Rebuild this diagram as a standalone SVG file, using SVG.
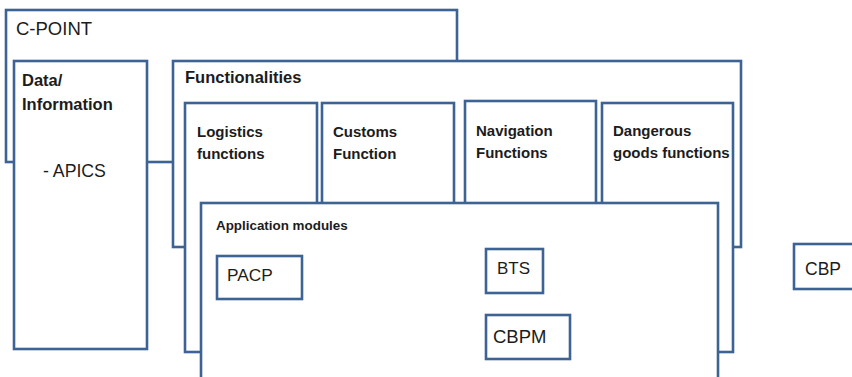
<svg xmlns="http://www.w3.org/2000/svg" width="852" height="377" viewBox="0 0 852 377">
  <style>
    .box { fill: #ffffff; stroke: #3d6394; stroke-width: 2.6; }
    .t { font-family: "Liberation Sans", Arial, sans-serif; fill: #1c1c1c; }
    .b { font-weight: bold; }
  </style>
  <rect x="0" y="0" width="852" height="377" fill="#ffffff"/>

  <!-- outer platform frame -->
  <g id="c-point">
    <rect class="box" x="6" y="10" width="451" height="152"/>
    <text class="t" x="16" y="35" font-size="18.5">C-POINT</text>
  </g>

  <g id="data-information">
    <rect class="box" x="14" y="61" width="133" height="288"/>
    <text class="t b" x="22" y="86" font-size="16.5">Data/</text>
    <text class="t b" x="22" y="110" font-size="16.5">Information</text>
    <text class="t" x="43" y="177" font-size="17.7">- APICS</text>
  </g>

  <g id="functionalities">
    <rect class="box" x="173" y="61" width="568" height="186"/>
    <text class="t b" x="185" y="83" font-size="16.5">Functionalities</text>
  </g>

  <!-- function columns, lower parts hidden behind the modules panel -->
  <g id="logistics">
    <rect class="box" x="185" y="103" width="132" height="249"/>
    <text class="t b" x="197" y="137" font-size="15">Logistics</text>
    <text class="t b" x="197" y="159" font-size="15">functions</text>
  </g>

  <g id="customs">
    <rect class="box" x="322" y="103" width="132" height="249"/>
    <text class="t b" x="333" y="137" font-size="15">Customs</text>
    <text class="t b" x="333" y="159" font-size="15">Function</text>
  </g>

  <g id="navigation">
    <rect class="box" x="465" y="101" width="131" height="251"/>
    <text class="t b" x="476" y="136" font-size="15">Navigation</text>
    <text class="t b" x="476" y="158" font-size="15">Functions</text>
  </g>

  <g id="dangerous-goods">
    <rect class="box" x="602" y="103" width="131" height="249"/>
    <text class="t b" x="613" y="136" font-size="15">Dangerous</text>
    <text class="t b" x="613" y="158" font-size="15">goods functions</text>
  </g>

  <g id="application-modules">
    <rect class="box" x="201" y="203" width="517" height="180"/>
    <text class="t b" x="216" y="230" font-size="13.4">Application modules</text>
  </g>

  <g id="pacp">
    <rect class="box" x="217" y="256" width="85" height="43"/>
    <text class="t" x="227" y="281" font-size="17.3">PACP</text>
  </g>

  <g id="bts">
    <rect class="box" x="486" y="249" width="57" height="44"/>
    <text class="t" x="497" y="274" font-size="17">BTS</text>
  </g>

  <g id="cbpm">
    <rect class="box" x="486" y="315" width="84" height="44"/>
    <text class="t" x="493" y="343" font-size="18.5">CBPM</text>
  </g>

  <g id="cbp">
    <rect class="box" x="794" y="244" width="70" height="45"/>
    <text class="t" x="805" y="275" font-size="17.5">CBP</text>
  </g>

  <g id="connectors"/>
</svg>
